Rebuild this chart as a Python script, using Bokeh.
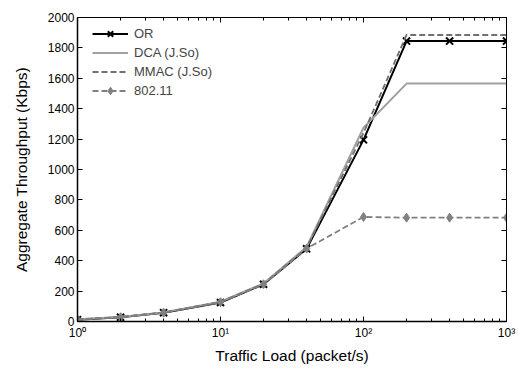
from bokeh.plotting import figure
from bokeh.models import (LogAxis, LinearAxis, FixedTicker, Range1d, Legend, LegendItem)
from bokeh.embed import file_html
from bokeh.resources import INLINE

# data
load = [1, 2, 4, 10, 20, 40, 100, 200, 400, 1000]
or_tp = [12, 28, 58, 125, 245, 478, 1195, 1845, 1845, 1845]
dca_tp = [14, 30, 60, 130, 250, 490, 1275, 1565, 1565, 1565]
mmac_tp = [13, 29, 59, 128, 248, 485, 1240, 1885, 1885, 1885]
w80211_tp = [12, 28, 58, 127, 245, 480, 688, 683, 683, 683]
x_major = [1, 10, 100, 1000]
x_labels = ["10\u2070", "10\u00b9", "10\u00b2", "10\u00b3"]
y_ticks = list(range(0, 2001, 200))

FONT = "Liberation Sans"

p = figure(frame_width=429, frame_height=304, x_axis_type="log", output_backend="svg",
           toolbar_location=None, x_range=Range1d(1, 1000), y_range=Range1d(0, 2000),
           min_border_left=77, min_border_top=17, min_border_right=10, min_border_bottom=47)
p.grid.visible = False
p.outline_line_color = "black"
p.outline_line_width = 1

minor = [m * d for d in [1, 10, 100] for m in range(2, 10)]
xt = FixedTicker(ticks=x_major, minor_ticks=minor)
yt = FixedTicker(ticks=y_ticks)

xa = p.xaxis[0]
xa.ticker = xt
xa.major_label_overrides = {k: v for k, v in zip(x_major, x_labels)}
xa.axis_label = "Traffic Load (packet/s)"
ya = p.yaxis[0]
ya.ticker = yt
ya.axis_label = "Aggregate Throughput (Kbps)"

for ax in (xa, ya):
    ax.major_tick_in = 5
    ax.major_tick_out = 0
    ax.minor_tick_in = 3
    ax.minor_tick_out = 0
    ax.axis_line_color = "black"
    ax.axis_line_width = 1.5
    ax.major_label_text_font = FONT
    ax.major_label_text_font_size = "12px"
    ax.major_label_text_color = "black"
    ax.axis_label_text_font = FONT
    ax.axis_label_text_font_size = "15.5px"
    ax.axis_label_text_font_style = "normal"
    ax.axis_label_text_color = "black"
ya.minor_tick_line_color = None
xa.major_label_standoff = 4
ya.major_label_standoff = 3
xa.axis_label_standoff = 4
ya.axis_label_standoff = 15

top = LogAxis(ticker=xt, major_tick_in=5, major_tick_out=0, minor_tick_in=3, minor_tick_out=0,
              major_label_text_font_size="1px", major_label_text_alpha=0,
              major_label_standoff=0, axis_line_color="black")
right = LinearAxis(ticker=yt, major_tick_in=5, major_tick_out=0, minor_tick_line_color=None,
                   major_label_text_font_size="1px", major_label_text_alpha=0,
                   major_label_standoff=0, axis_line_color="black")
p.add_layout(top, "above")
p.add_layout(right, "right")

r_or = p.line(load, or_tp, line_color="black", line_width=2)
r_orm = p.scatter(load, or_tp, marker="x", size=10, line_color="black", line_width=2)
r_dca = p.line(load, dca_tp, line_color="#a0a0a0", line_width=2)
r_mmac = p.line(load, mmac_tp, line_color="#707070", line_width=1.8, line_dash="6 3")
r_w = p.line(load, w80211_tp, line_color="#808080", line_width=1.8, line_dash="6 3")
r_wm = p.scatter(load, w80211_tp, marker="diamond", size=9, fill_color="#808080",
                 line_color="#808080")

legend = Legend(items=[
    LegendItem(label="OR", renderers=[r_or, r_orm]),
    LegendItem(label="DCA (J.So)", renderers=[r_dca]),
    LegendItem(label="MMAC (J.So)", renderers=[r_mmac]),
    LegendItem(label="802.11", renderers=[r_w, r_wm]),
], location=(15, 221), padding=5, margin=0, spacing=0, glyph_width=36, glyph_height=19,
    label_height=19, label_standoff=6, border_line_color=None, background_fill_alpha=0,
    label_text_font=FONT, label_text_font_size="13px")
p.add_layout(legend, "center")

open("out.html", "w").write(file_html(p, INLINE))
